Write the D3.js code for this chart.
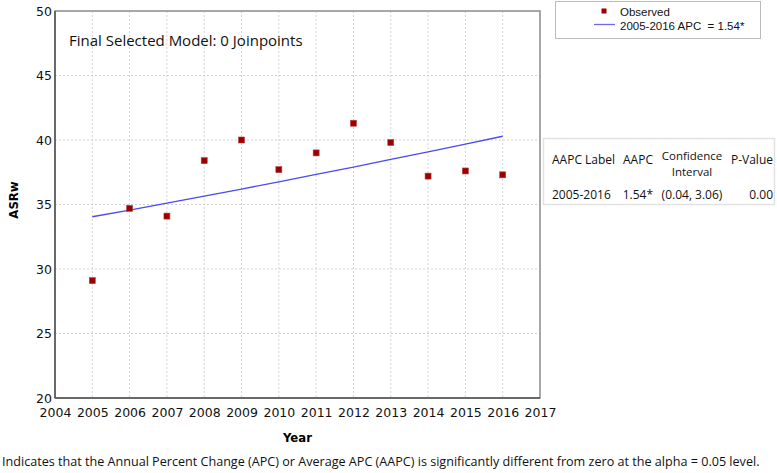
<!DOCTYPE html>
<html>
<head>
<meta charset="utf-8">
<script src="https://cdn.jsdelivr.net/npm/d3@7"></script>
<style>
  body { margin: 0; background: #fff; }
  svg { display: block; }
</style>
</head>
<body>
<svg id="chart" width="777" height="473"></svg>
<script>
// observed ASRw by year
var years = [2005, 2006, 2007, 2008, 2009, 2010, 2011, 2012, 2013, 2014, 2015, 2016]
var observed = [29.1, 34.7, 34.1, 38.4, 40.0, 37.7, 39.0, 41.3, 39.8, 37.2, 37.6, 37.3]
// joinpoint fitted values (0 joinpoints, APC 1.54)
var fitted = [34.05, 34.57, 35.11, 35.65, 36.20, 36.76, 37.33, 37.90, 38.49, 39.08, 39.68, 40.29]

var xTicks = d3.range(2004, 2018)
var yTicks = [20, 25, 30, 35, 40, 45, 50]

var tableHeader = ["AAPC Label", "AAPC", "Confidence\nInterval", "P-Value"]
var tableRow = ["2005-2016", "1.54*", "(0.04, 3.06)", "0.00"]
var legendLabels = ["Observed", "2005-2016 APC  = 1.54*"]

var margin = {left: 55, top: 11, right: 540, bottom: 398}

var svg = d3.select("#chart")

var x = d3.scaleLinear().domain([2004, 2017]).range([margin.left, margin.right])
var y = d3.scaleLinear().domain([20, 50]).range([margin.bottom, margin.top])

var tickFont = "'DejaVu Sans', Verdana, sans-serif"
var uiFont = "'Open Sans', 'Noto Sans', sans-serif"

// gridlines
var grid = svg.append("g")
grid.selectAll("line.v")
    .data(xTicks.slice(1, -1))
    .enter().append("line")
    .attr("x1", function (d) { return x(d) })
    .attr("x2", function (d) { return x(d) })
    .attr("y1", margin.top)
    .attr("y2", margin.bottom)
    .attr("stroke", "#d4d4d4")
    .attr("stroke-dasharray", "2,2")
grid.selectAll("line.h")
    .data(yTicks.slice(1, -1))
    .enter().append("line")
    .attr("x1", margin.left)
    .attr("x2", margin.right)
    .attr("y1", function (d) { return y(d) })
    .attr("y2", function (d) { return y(d) })
    .attr("stroke", "#cfcfcf")
    .attr("stroke-dasharray", "2,2")

// frame
svg.append("rect")
    .attr("x", margin.left)
    .attr("y", margin.top)
    .attr("width", margin.right - margin.left)
    .attr("height", margin.bottom - margin.top)
    .attr("fill", "none")
    .attr("stroke", "#8a8a8a")
    .attr("stroke-width", 1.5)

// axes
var xAxis = d3.axisBottom(x).tickValues(xTicks).tickFormat(d3.format("d")).tickSize(0).tickPadding(10)
var yAxis = d3.axisLeft(y).tickValues(yTicks).tickSize(0).tickPadding(3)

var gx = svg.append("g").attr("transform", "translate(0," + margin.bottom + ")").call(xAxis)
var gy = svg.append("g").attr("transform", "translate(" + margin.left + ",0)").call(yAxis)

;[gx, gy].forEach(function (g) {
    g.select(".domain").attr("stroke", "#555").attr("stroke-width", 1.5)
    g.selectAll(".tick text")
        .attr("fill", "#111")
        .style("font-family", tickFont)
        .style("font-size", "12.5px")
})
gy.select(".domain").attr("d", "M0," + margin.top + "V" + margin.bottom)
gx.select(".domain").attr("d", "M" + margin.left + ",0H" + margin.right)

// axis titles
svg.append("text")
    .attr("x", (margin.left + margin.right) / 2)
    .attr("y", 442)
    .attr("text-anchor", "middle")
    .style("font-family", "'DejaVu Sans Condensed', 'DejaVu Sans', sans-serif")
    .style("font-weight", "bold")
    .style("font-size", "13px")
    .text("Year")

svg.append("text")
    .attr("transform", "translate(18,200) rotate(-90)")
    .attr("text-anchor", "middle")
    .style("font-family", "'DejaVu Sans Condensed', 'DejaVu Sans', sans-serif")
    .style("font-weight", "bold")
    .style("font-size", "13px")
    .text("ASRw")

// model title
svg.append("text")
    .attr("x", 69)
    .attr("y", 46)
    .style("font-family", uiFont)
    .style("font-size", "15px")
    .attr("fill", "#111")
    .text("Final Selected Model: 0 Joinpoints")

// fitted line
var line = d3.line()
    .x(function (d, i) { return x(years[i]) })
    .y(function (d) { return y(d) })

svg.append("path")
    .datum(fitted)
    .attr("d", line)
    .attr("fill", "none")
    .attr("stroke", "#4a4af0")
    .attr("stroke-width", 1.3)

// observed points
svg.selectAll("rect.obs")
    .data(observed)
    .enter().append("rect")
    .attr("class", "obs")
    .attr("x", function (d, i) { return x(years[i]) - 3 })
    .attr("y", function (d) { return y(d) - 3 })
    .attr("width", 6)
    .attr("height", 6)
    .attr("fill", "#9a0000")
    .attr("stroke", "#b84040")
    .attr("stroke-width", 0.6)

// legend
var legend = svg.append("g")
legend.append("rect")
    .attr("x", 555.5)
    .attr("y", 1.5)
    .attr("width", 205)
    .attr("height", 37)
    .attr("fill", "#fff")
    .attr("stroke", "#bbb")
legend.append("rect")
    .attr("x", 601.5)
    .attr("y", 8.5)
    .attr("width", 5)
    .attr("height", 5)
    .attr("fill", "#9a0000")
legend.append("line")
    .attr("x1", 594)
    .attr("x2", 615)
    .attr("y1", 24.5)
    .attr("y2", 24.5)
    .attr("stroke", "#6a6af0")
    .attr("stroke-width", 1.3)
legend.selectAll("text")
    .data(legendLabels)
    .enter().append("text")
    .attr("x", 620)
    .attr("y", function (d, i) { return 16 + i * 13.5 })
    .attr("xml:space", "preserve")
    .style("white-space", "pre")
    .style("font-family", "'Liberation Sans', Arial, sans-serif")
    .style("font-size", "11.5px")
    .attr("fill", "#111")
    .text(function (d) { return d })

// AAPC table
var table = svg.append("g")
table.append("rect")
    .attr("x", 543.5)
    .attr("y", 138.5)
    .attr("width", 231)
    .attr("height", 66)
    .attr("fill", "#fff")
    .attr("stroke", "#e2e2e2")
    .attr("stroke-width", 1.5)

var colX = [552, 623, 692, 773]
var colAnchor = ["start", "start", "middle", "end"]
var rowAnchor = ["start", "end", "middle", "end"]
var rowX = [552, 653, 692, 773]

tableHeader.forEach(function (h, i) {
    var parts = h.split("\n")
    parts.forEach(function (part, k) {
        table.append("text")
            .attr("x", colX[i])
            .attr("y", parts.length > 1 ? 160 + k * 16 : 164)
            .attr("text-anchor", colAnchor[i])
            .style("font-family", uiFont)
            .style("font-size", parts.length > 1 ? "11.5px" : "12px")
            .attr("fill", "#111")
            .text(part)
    })
})
tableRow.forEach(function (v, i) {
    table.append("text")
        .attr("x", rowX[i])
        .attr("y", 199)
        .attr("text-anchor", rowAnchor[i])
        .style("font-family", uiFont)
        .style("font-size", "12px")
        .attr("fill", "#111")
        .text(v)
})

// footnote
svg.append("text")
    .attr("x", 2)
    .attr("y", 466)
    .style("font-family", uiFont)
    .style("font-size", "12.6px")
    .attr("fill", "#111")
    .text("Indicates that the Annual Percent Change (APC) or Average APC (AAPC) is significantly different from zero at the alpha = 0.05 level.")
</script>
</body>
</html>
